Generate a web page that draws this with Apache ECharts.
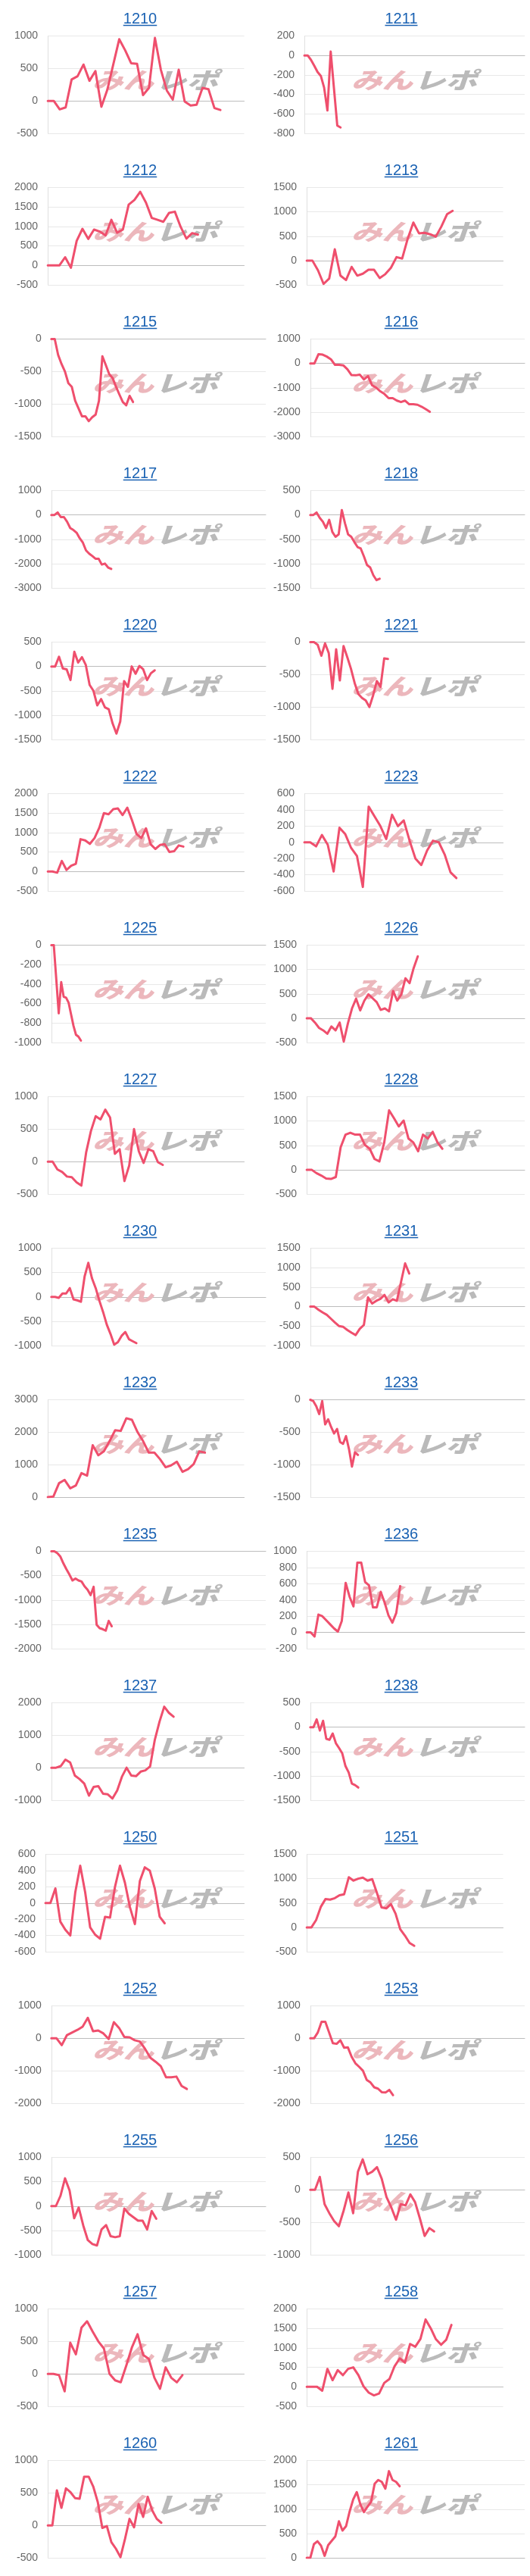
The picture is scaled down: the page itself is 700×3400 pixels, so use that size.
<!DOCTYPE html>
<html><head><meta charset="utf-8">
<script src="https://cdn.jsdelivr.net/npm/echarts@6/dist/echarts.min.js"></script>
<style>html,body{margin:0;padding:0;background:#fff}#c{width:700px;height:3400px}</style>
</head><body><div id="c"></div>
<script>
// ---- data ----
const machines = ['1210','1211','1212','1213','1215','1216','1217','1218','1220','1221','1222','1223','1225','1226','1227','1228','1230','1231','1232','1233','1235','1236','1237','1238','1250','1251','1252','1253','1255','1256','1257','1258','1260','1261'];
const yMins  = [-500,-800,-500,-500,-1500,-3000,-3000,-1500,-1500,-1500,-500,-600,-1000,-500,-500,-500,-1000,-1000,0,-1500,-2000,-200,-1000,-1500,-600,-500,-2000,-2000,-1000,-1000,-500,-500,-500,0];
const yMaxs  = [1000,200,2000,1500,0,1000,1000,500,500,0,2000,600,0,1500,1000,1500,1000,1500,3000,0,0,1000,2000,500,600,1500,1000,1000,1000,500,1000,2000,1000,2000];
const ySteps = [500,200,500,500,500,1000,1000,500,500,500,500,200,200,500,500,500,500,500,1000,500,500,200,1000,500,200,500,1000,1000,500,500,500,500,500,500];
const slotCounts = [34,68,35,36,64,53,69,69,57,59,43,35,88,54,42,46,59,53,36,73,72,57,42,68,41,43,38,58,48,46,36,39,49,62];

const s1210 = [0,0,-130,-100,330,380,560,310,460,-90,170,560,950,780,580,570,90,200,970,480,160,20,480,-10,-70,-60,200,180,-110,-140];
const s1211 = [0,0,-45,-105,-170,-210,-330,-565,40,-340,-720,-740];
const s1212 = [0,0,0,210,-60,630,940,680,920,870,770,1170,840,920,1560,1680,1890,1610,1220,1170,1120,1350,1380,990,690,830,790];
const s1213 = [0,0,-200,-480,-370,230,-310,-400,-130,-310,-270,-190,-190,-360,-280,-150,70,40,450,780,560,570,540,490,700,950,1020];
const s1215 = [0,0,-245,-385,-500,-680,-735,-950,-1070,-1190,-1190,-1265,-1205,-1165,-950,-265,-400,-540,-600,-735,-855,-970,-1020,-875,-970];
const s1216 = [0,0,380,360,280,170,-60,-60,-80,-240,-480,-490,-460,-660,-520,-900,-1000,-1150,-1260,-1430,-1430,-1530,-1590,-1530,-1680,-1680,-1700,-1780,-1880,-1990];
const s1217 = [0,0,100,-90,-90,-280,-540,-620,-730,-960,-1140,-1460,-1590,-1690,-1800,-1800,-2040,-2000,-2160,-2220];
const s1218 = [0,0,50,-60,-140,-270,-100,-350,-450,-400,100,-170,-400,-450,-560,-660,-690,-850,-1030,-1080,-1240,-1340,-1310];
const s1220 = [0,0,200,-40,-60,-280,300,80,190,30,-380,-500,-800,-670,-840,-880,-1170,-1380,-1130,-300,-420,0,-150,10,-60,-280,-140,-80];
const s1221 = [0,0,-40,-210,-20,-170,-720,-110,-590,-60,-230,-410,-630,-800,-860,-900,-1000,-820,-600,-690,-250,-260];
const s1222 = [0,0,-30,270,40,150,200,830,800,710,860,1120,1500,1470,1600,1620,1450,1640,1320,960,860,1110,700,580,680,700,500,520,670,640];
const s1223 = [0,0,-50,90,-30,-360,180,100,-70,-170,-550,440,320,200,40,340,200,270,20,-200,-280,-100,20,0,-150,-370,-440];
const s1225 = [0,0,-350,-700,-380,-530,-540,-590,-710,-830,-920,-940,-980];
const s1226 = [0,0,-90,-200,-250,-320,-170,-250,-90,-480,-110,200,400,160,360,490,410,330,170,200,140,560,360,490,820,720,1030,1270];
const s1227 = [0,0,-120,-160,-230,-240,-320,-370,140,470,700,650,800,680,120,190,-300,-60,500,160,-20,190,160,-10,-50];
const s1228 = [0,0,-70,-120,-180,-190,-150,460,720,760,720,720,510,430,220,170,560,1220,1060,890,1010,640,560,380,720,640,780,560,430];
const s1230 = [0,0,-20,70,70,180,-50,-70,-100,420,700,380,180,-80,-310,-570,-760,-980,-930,-800,-720,-870,-910,-950];
const s1231 = [0,0,-80,-150,-210,-310,-410,-500,-520,-600,-670,-730,-570,-470,240,80,150,200,300,110,190,150,630,1110,850];
const s1232 = [0,20,430,530,270,360,740,660,1600,1290,1410,1720,2060,2040,2430,2380,2000,1720,1370,1370,1170,920,980,1090,780,860,1020,1410,1370];
const s1233 = [0,-20,-100,-220,-20,-380,-300,-420,-520,-450,-650,-680,-560,-760,-1030,-810,-850];
const s1235 = [0,0,-40,-110,-250,-370,-480,-600,-560,-600,-620,-720,-790,-900,-730,-1510,-1580,-1600,-1630,-1430,-1540];
const s1236 = [0,0,-50,220,200,150,100,50,10,140,610,440,320,860,860,620,580,310,310,500,370,210,120,240,570];
const s1237 = [0,0,50,250,160,-240,-350,-490,-860,-590,-570,-800,-820,-950,-700,-280,0,-240,-260,-120,-80,40,860,1420,1880,1690,1570];
const s1238 = [0,0,160,-70,130,-240,-260,-130,-330,-430,-540,-800,-930,-1160,-1190,-1240];
const s1250 = [0,0,180,-230,-330,-400,130,460,130,-300,-390,-440,-170,-180,200,460,250,-50,-260,270,440,400,180,-170,-250];
const s1251 = [0,0,150,420,580,570,600,660,680,1030,960,1000,1020,960,990,710,410,390,480,280,-40,-170,-320,-380];
const s1252 = [0,0,-210,100,180,260,360,630,220,240,150,-20,500,320,40,30,-60,-100,-330,-600,-720,-860,-1200,-1200,-1180,-1470,-1560];
const s1253 = [0,0,180,510,510,180,-150,-170,-60,-290,-280,-570,-770,-880,-1000,-1280,-1360,-1510,-1550,-1660,-1670,-1590,-1750];
const s1255 = [0,0,210,570,320,-250,-30,-400,-700,-780,-810,-480,-390,-620,-640,-620,-50,-160,-230,-300,-300,-480,-100,-260];
const s1256 = [0,0,200,-220,-360,-480,-560,-320,-40,-360,280,470,240,280,350,170,-110,-270,-460,-220,-240,-70,-190,-440,-710,-590,-640];
const s1257 = [0,0,-20,-270,480,300,710,810,650,500,390,0,-100,-130,130,410,610,290,230,-60,-230,100,-60,-130,-20];
const s1258 = [0,0,0,-100,460,170,430,300,460,500,300,10,-150,-220,-170,100,200,530,730,620,1100,1030,1230,1730,1500,1220,1080,1210,1590];
const s1260 = [0,0,540,270,570,510,420,410,750,750,600,360,-40,-10,-260,-360,-490,-210,100,-30,330,130,440,230,100,40];
const s1261 = [0,0,280,340,250,40,260,350,440,750,560,650,950,1200,1350,1100,940,1050,1150,1520,1600,1560,1420,1780,1600,1560,1470];

const seriesValues = [s1210,s1211,s1212,s1213,s1215,s1216,s1217,s1218,s1220,s1221,s1222,s1223,s1225,s1226,s1227,s1228,s1230,s1231,s1232,s1233,s1235,s1236,s1237,s1238,s1250,s1251,s1252,s1253,s1255,s1256,s1257,s1258,s1260,s1261];

// ---- layout (not data) ----
const wideRight = [0,1,0,0,1,1,1,1,1,1,0,0,1,1,0,1,1,1,0,1,1,1,0,1,0,0,0,1,1,1,0,0,1,1];
const COL_OFF = 342;
const ROW_H = 200;
const LABEL_FONT = '"Liberation Sans", Arial, sans-serif';
const LINE_COLOR = '#ef4f6d';
const TITLE_COLOR = '#1a62b3';

const mctx = document.createElement('canvas').getContext('2d');
function textW(t, font){ mctx.font = font; return mctx.measureText(t).width; }

const grids = [], xAxes = [], yAxes = [], series = [], graphics = [];
machines.forEach((name, i) => {
  const col = i % 2, row = Math.floor(i / 2);
  const top = row * ROW_H;
  const cx = col * COL_OFF;
  let maxW = 0;
  for (let v = yMins[i]; v <= yMaxs[i] + 1e-9; v += ySteps[i]) {
    maxW = Math.max(maxW, textW(String(v), '14px ' + LABEL_FONT));
  }
  const left = cx + 19 + 13 + maxW;
  const right = cx + (wideRight[i] ? 351 : 322.5);
  grids.push({ left: left, top: top + 47.5, width: right - left, height: 128.5, containLabel: false });
  xAxes.push({
    type: 'category', gridIndex: i, boundaryGap: false,
    data: Array.from({ length: slotCounts[i] }, (_, k) => String(k)),
    axisLabel: { show: false }, axisTick: { show: false }, splitLine: { show: false },
    axisLine: { show: true, onZero: true, lineStyle: { color: '#bdbdbd', width: 1 } }
  });
  yAxes.push({
    type: 'value', gridIndex: i, min: yMins[i], max: yMaxs[i], interval: ySteps[i],
    axisLine: { show: true, lineStyle: { color: '#e0e0e0', width: 1 } },
    axisTick: { show: false },
    axisLabel: { color: '#666', fontSize: 14, fontFamily: LABEL_FONT, margin: 13, formatter: v => String(v) },
    splitLine: { show: true, lineStyle: { color: '#e8e8e8', width: 1 } }
  });
  series.push({
    type: 'line', xAxisIndex: i, yAxisIndex: i, data: seriesValues[i],
    showSymbol: false, symbol: 'none', z: 5,
    lineStyle: { color: LINE_COLOR, width: 3, join: 'round', cap: 'round' },
    itemStyle: { color: LINE_COLOR }, animation: false, silent: true
  });
  // title + underline
  const tcx = 185 + col * 345;
  const tw = textW(name, '20px ' + LABEL_FONT);
  graphics.push({
    type: 'text', x: tcx, y: top + 25, z: 10,
    style: { text: name, font: '20px ' + LABEL_FONT, fill: TITLE_COLOR,
             align: 'center', verticalAlign: 'middle', textAlign: 'center', textVerticalAlign: 'middle' }
  });
  graphics.push({
    type: 'line', z: 10,
    shape: { x1: tcx - tw / 2, y1: top + 33.5, x2: tcx + tw / 2, y2: top + 33.5 },
    style: { stroke: TITLE_COLOR, lineWidth: 1.3 }
  });
  // watermark
  const wmFont = 'italic 900 30px "Noto Sans CJK JP", sans-serif';
  graphics.push({
    type: 'text', x: cx + 122, y: top + 106, scaleX: 1.35, z: 1,
    style: { text: 'みん', font: wmFont, fill: '#ecb7bc', verticalAlign: 'middle', textVerticalAlign: 'middle' }
  });
  graphics.push({
    type: 'text', x: cx + 205, y: top + 106, scaleX: 1.38, z: 1,
    style: { text: 'レポ', font: wmFont, fill: '#bababa', verticalAlign: 'middle', textVerticalAlign: 'middle' }
  });
});

const chart = echarts.init(document.getElementById('c'), null, { renderer: 'canvas' });
chart.setOption({
  backgroundColor: '#ffffff',
  animation: false,
  grid: grids, xAxis: xAxes, yAxis: yAxes, series: series,
  graphic: { elements: graphics }
});
</script>
</body></html>
